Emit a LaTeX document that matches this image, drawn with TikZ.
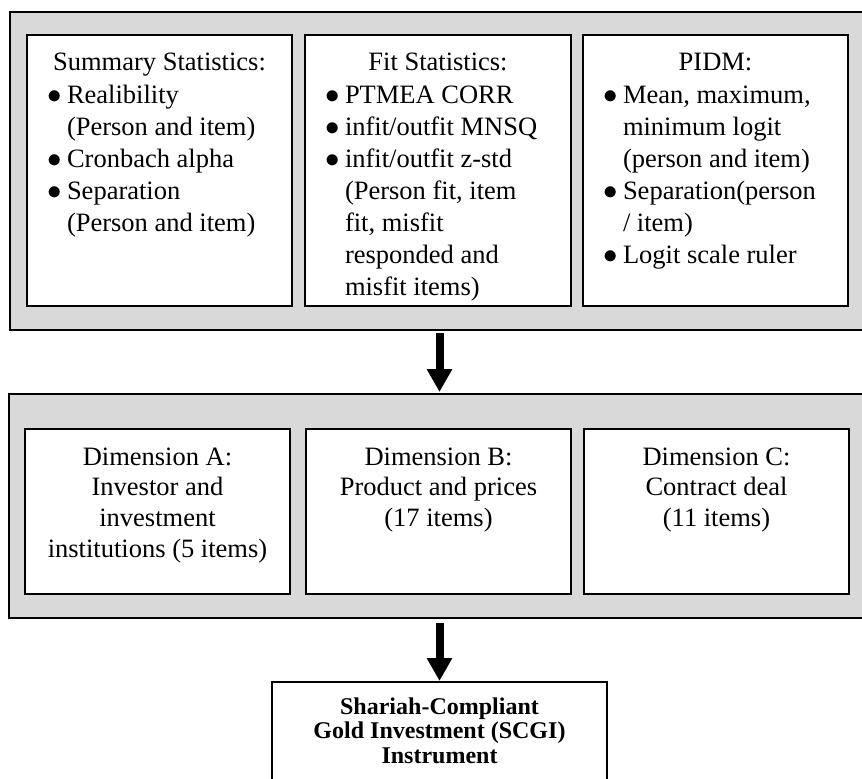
\documentclass[tikz,border=0pt]{standalone}
\usepackage{fontspec}
\setmainfont{Liberation Serif}
\usetikzlibrary{arrows.meta}
\definecolor{panelgray}{HTML}{D9D9D9}
\newcommand{\bul}{\makebox[9pt][l]{\hspace*{-0.6pt}$\bullet$}}
\newcommand{\ind}{\hspace*{9pt}}
\newcommand{\tabl}[1]{\begin{tabular}[t]{@{}l@{}}#1\end{tabular}}
\newcommand{\tabc}[1]{\begin{tabular}[t]{@{}c@{}}#1\end{tabular}}
\begin{document}
\begin{tikzpicture}[x=0.5pt,y=-0.5pt,
  panel/.style={draw=black, line width=1pt, fill=panelgray, anchor=north west, inner sep=0pt, outer sep=0pt},
  box/.style={draw=black, line width=1.1pt, fill=white, anchor=north west, inner sep=0pt, outer sep=0pt},
  txt/.style={inner sep=0pt, outer sep=0pt, font=\fontsize{13.25pt}{16pt}\selectfont, anchor=base west},
  ttl/.style={inner sep=0pt, outer sep=0pt, font=\fontsize{13.25pt}{16pt}\selectfont, anchor=base},
  dimtxt/.style={inner sep=0pt, outer sep=0pt, font=\fontsize{13.25pt}{15.4pt}\selectfont, anchor=base},
  fintxt/.style={inner sep=0pt, outer sep=0pt, font=\bfseries\fontsize{12pt}{12.25pt}\selectfont, anchor=base},
  bigarrow/.style={line width=4pt, -{Triangle[width=12pt,length=11.5pt]}}
]
\useasboundingbox (0,0) rectangle (862,778);
\clip (0,0) rectangle (862,778);

% top panel
\node[panel, minimum width=445pt, minimum height=159pt] (P1) at (10,12) {};
\node[box, minimum width=132.5pt, minimum height=135.5pt] (B1) at (27,35) {};
\node[box, minimum width=133pt, minimum height=135.5pt] (B2) at (305,35) {};
\node[box, minimum width=132.5pt, minimum height=135.5pt] (B3) at (583,35) {};

\node[ttl] (T1) at (159.5,70) {Summary Statistics:};
\node[ttl] (T2) at (438,70) {Fit Statistics:};
\node[ttl] (T3) at (715.5,70) {PIDM:};

\node[txt] (L1) at (49,103) {\tabl{\bul Realibility\\ \ind(Person and item)\\ \bul Cronbach alpha\\ \bul Separation\\ \ind(Person and item)}};
\node[txt] (L2) at (327,103) {\tabl{\bul PTMEA CORR\\ \bul infit/outfit MNSQ\\ \bul infit/outfit z-std\\ \ind(Person fit, item\\ \ind fit, misfit\\ \ind responded and\\ \ind misfit items)}};
\node[txt] (L3) at (605,103) {\tabl{\bul Mean, maximum,\\ \ind minimum logit\\ \ind(person and item)\\ \bul Separation(person\\ \ind/ item)\\ \bul Logit scale ruler}};

% middle panel
\node[panel, minimum width=445.5pt, minimum height=112pt] (P2) at (9,394) {};
\node[box, minimum width=132.5pt, minimum height=82.5pt] (D1) at (25,429) {};
\node[box, minimum width=132.5pt, minimum height=82.5pt] (D2) at (306,429) {};
\node[box, minimum width=132.5pt, minimum height=82.5pt] (D3) at (584,429) {};

\node[dimtxt] (DT1) at (157.5,465) {\tabc{Dimension A:\\ Investor and\\ investment\\ institutions (5 items)}};
\node[dimtxt] (DT2) at (438.5,465) {\tabc{Dimension B:\\ Product and prices\\ (17 items)}};
\node[dimtxt] (DT3) at (716.5,465) {\tabc{Dimension C:\\ Contract deal\\ (11 items)}};

% final box
\node[box, minimum width=167.5pt, minimum height=59pt] (F) at (272,682) {};
\node[fintxt] (FT) at (439.5,714) {\tabc{Shariah-Compliant\\ Gold Investment (SCGI)\\ Instrument}};

% arrows
\draw[bigarrow] ([yshift=-1.5pt]P1.south -| F.north) -- ([yshift=1pt]P2.north -| F.north);
\draw[bigarrow] ([yshift=-2.5pt]P2.south -| F.north) -- ([yshift=0.5pt]F.north);
\end{tikzpicture}
\end{document}
